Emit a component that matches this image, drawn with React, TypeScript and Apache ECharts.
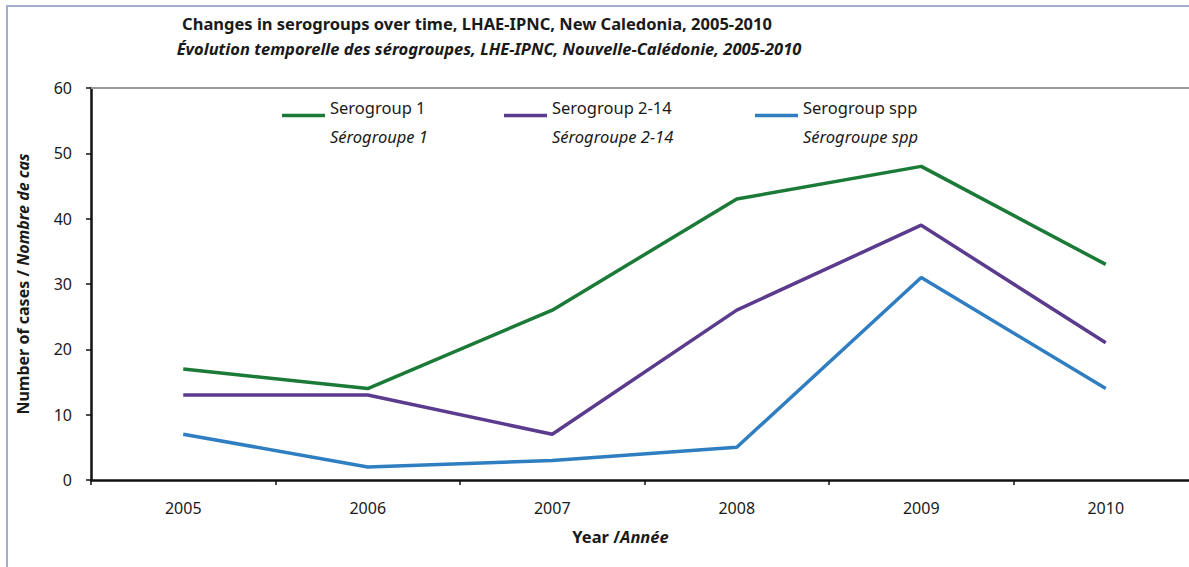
import React, { useEffect, useRef } from "react";
import * as echarts from "echarts";

const years = ["2005", "2006", "2007", "2008", "2009", "2010"];
const serogroup1 = [17, 14, 26, 43, 48, 33];
const serogroup214 = [13, 13, 7, 26, 39, 21];
const serogroupSpp = [7, 2, 3, 5, 31, 14];
const seriesNames = ["Serogroup 1", "Serogroup 2-14", "Serogroup spp"];
const seriesNamesFr = ["Sérogroupe 1", "Sérogroupe 2-14", "Sérogroupe spp"];
const colors = ["#1b7a37", "#5b3b8d", "#2f7ec1"];
const yTicks = { min: 0, max: 60, interval: 10 };

const FONT = "'Noto Sans', 'Open Sans', sans-serif";

export default function App() {
  const ref = useRef<HTMLDivElement>(null);
  useEffect(() => {
    if (!ref.current) return;
    const chart = echarts.init(ref.current, null, { renderer: "svg" });
    const values = [serogroup1, serogroup214, serogroupSpp];
    const legendLefts = [282, 504, 755];
    chart.setOption({
      animation: false,
      textStyle: { fontFamily: FONT },
      title: [
        {
          text: "Changes in serogroups over time, LHAE-IPNC, New Caledonia, 2005-2010",
          left: 472,
          top: 10,
          textAlign: "center",
          textStyle: { fontFamily: FONT, fontSize: 16.5, fontWeight: "bold", color: "#1a1a1a" },
        },
        {
          text: "Évolution temporelle des sérogroupes, LHE-IPNC, Nouvelle-Calédonie, 2005-2010",
          left: 484,
          top: 35,
          textAlign: "center",
          textStyle: {
            fontFamily: FONT,
            fontSize: 16.5,
            fontWeight: "bold",
            fontStyle: "italic",
            color: "#1a1a1a",
          },
        },
      ],
      legend: seriesNames.map((n, i) => ({
        data: [n],
        left: legendLefts[i],
        top: 99,
        padding: 0,
        icon: "rect",
        itemWidth: 43,
        itemHeight: 3.5,
        selectedMode: false,
        formatter: (name: string) => {
          const idx = seriesNames.indexOf(name);
          return `{a|${name}}\n{b|${seriesNamesFr[idx]}}`;
        },
        textStyle: {
          rich: {
            a: { fontFamily: FONT, fontSize: 16.5, lineHeight: 42, color: "#1a1a1a" },
            b: { fontFamily: FONT, fontSize: 16.5, lineHeight: 16, fontStyle: "italic", color: "#1a1a1a" },
          },
        },
      })),
      graphic: [
        {
          type: "rect",
          shape: { x: 7, y: 6, width: 1400, height: 800 },
          style: { fill: "none", stroke: "#a3acc9", lineWidth: 2 },
          silent: true,
        },
      ],
      grid: { left: 91, top: 88, right: 2, bottom: 87, containLabel: false },
      xAxis: [
        {
          type: "category",
          data: years,
          boundaryGap: true,
          position: "bottom",
          axisLine: { lineStyle: { color: "#111", width: 2.5 } },
          axisTick: { show: true, length: 5, lineStyle: { color: "#111", width: 1.5 } },
          axisLabel: { margin: 20, fontFamily: FONT, fontSize: 16, color: "#1a1a1a" },
          name: "{b|Year /}{bi|Année}",
          nameLocation: "middle",
          nameGap: 48,
          nameTextStyle: {
            padding: [0, 48, 0, 0],
            rich: {
              b: { fontFamily: FONT, fontSize: 16.5, fontWeight: "bold", color: "#1a1a1a" },
              bi: { fontFamily: FONT, fontSize: 16.5, fontWeight: "bold", fontStyle: "italic", color: "#1a1a1a" },
            },
          },
        },
        {
          type: "category",
          data: years,
          position: "top",
          axisLine: { lineStyle: { color: "#999", width: 2 } },
          axisTick: { show: false },
          axisLabel: { show: false },
        },
      ],
      yAxis: {
        type: "value",
        min: yTicks.min,
        max: yTicks.max,
        interval: yTicks.interval,
        axisLine: { show: true, lineStyle: { color: "#111", width: 2.5 } },
        axisTick: { show: true, length: 5, lineStyle: { color: "#111", width: 1.5 } },
        splitLine: { show: false },
        axisLabel: { margin: 19, fontFamily: FONT, fontSize: 16, color: "#1a1a1a" },
        name: "{b|Number of cases / }{bi|Nombre de cas}",
        nameLocation: "middle",
        nameRotate: 90,
        nameGap: 60,
        nameTextStyle: {
          rich: {
            b: { fontFamily: FONT, fontSize: 16, fontWeight: "bold", color: "#1a1a1a" },
            bi: { fontFamily: FONT, fontSize: 16, fontWeight: "bold", fontStyle: "italic", color: "#1a1a1a" },
          },
        },
      },
      series: seriesNames.map((n, i) => ({
        name: n,
        type: "line",
        data: values[i],
        xAxisIndex: 0,
        symbol: "none",
        lineStyle: { color: colors[i], width: 3.5 },
        itemStyle: { color: colors[i] },
      })),
    });
    return () => chart.dispose();
  }, []);
  return (
    <div
      style={{
        position: "absolute",
        left: 0,
        top: 0,
        width: 1189,
        height: 567,
        overflow: "hidden",
        background: "#fff",
      }}
    >
      <div ref={ref} style={{ width: 1200, height: 567 }} />
    </div>
  );
}
